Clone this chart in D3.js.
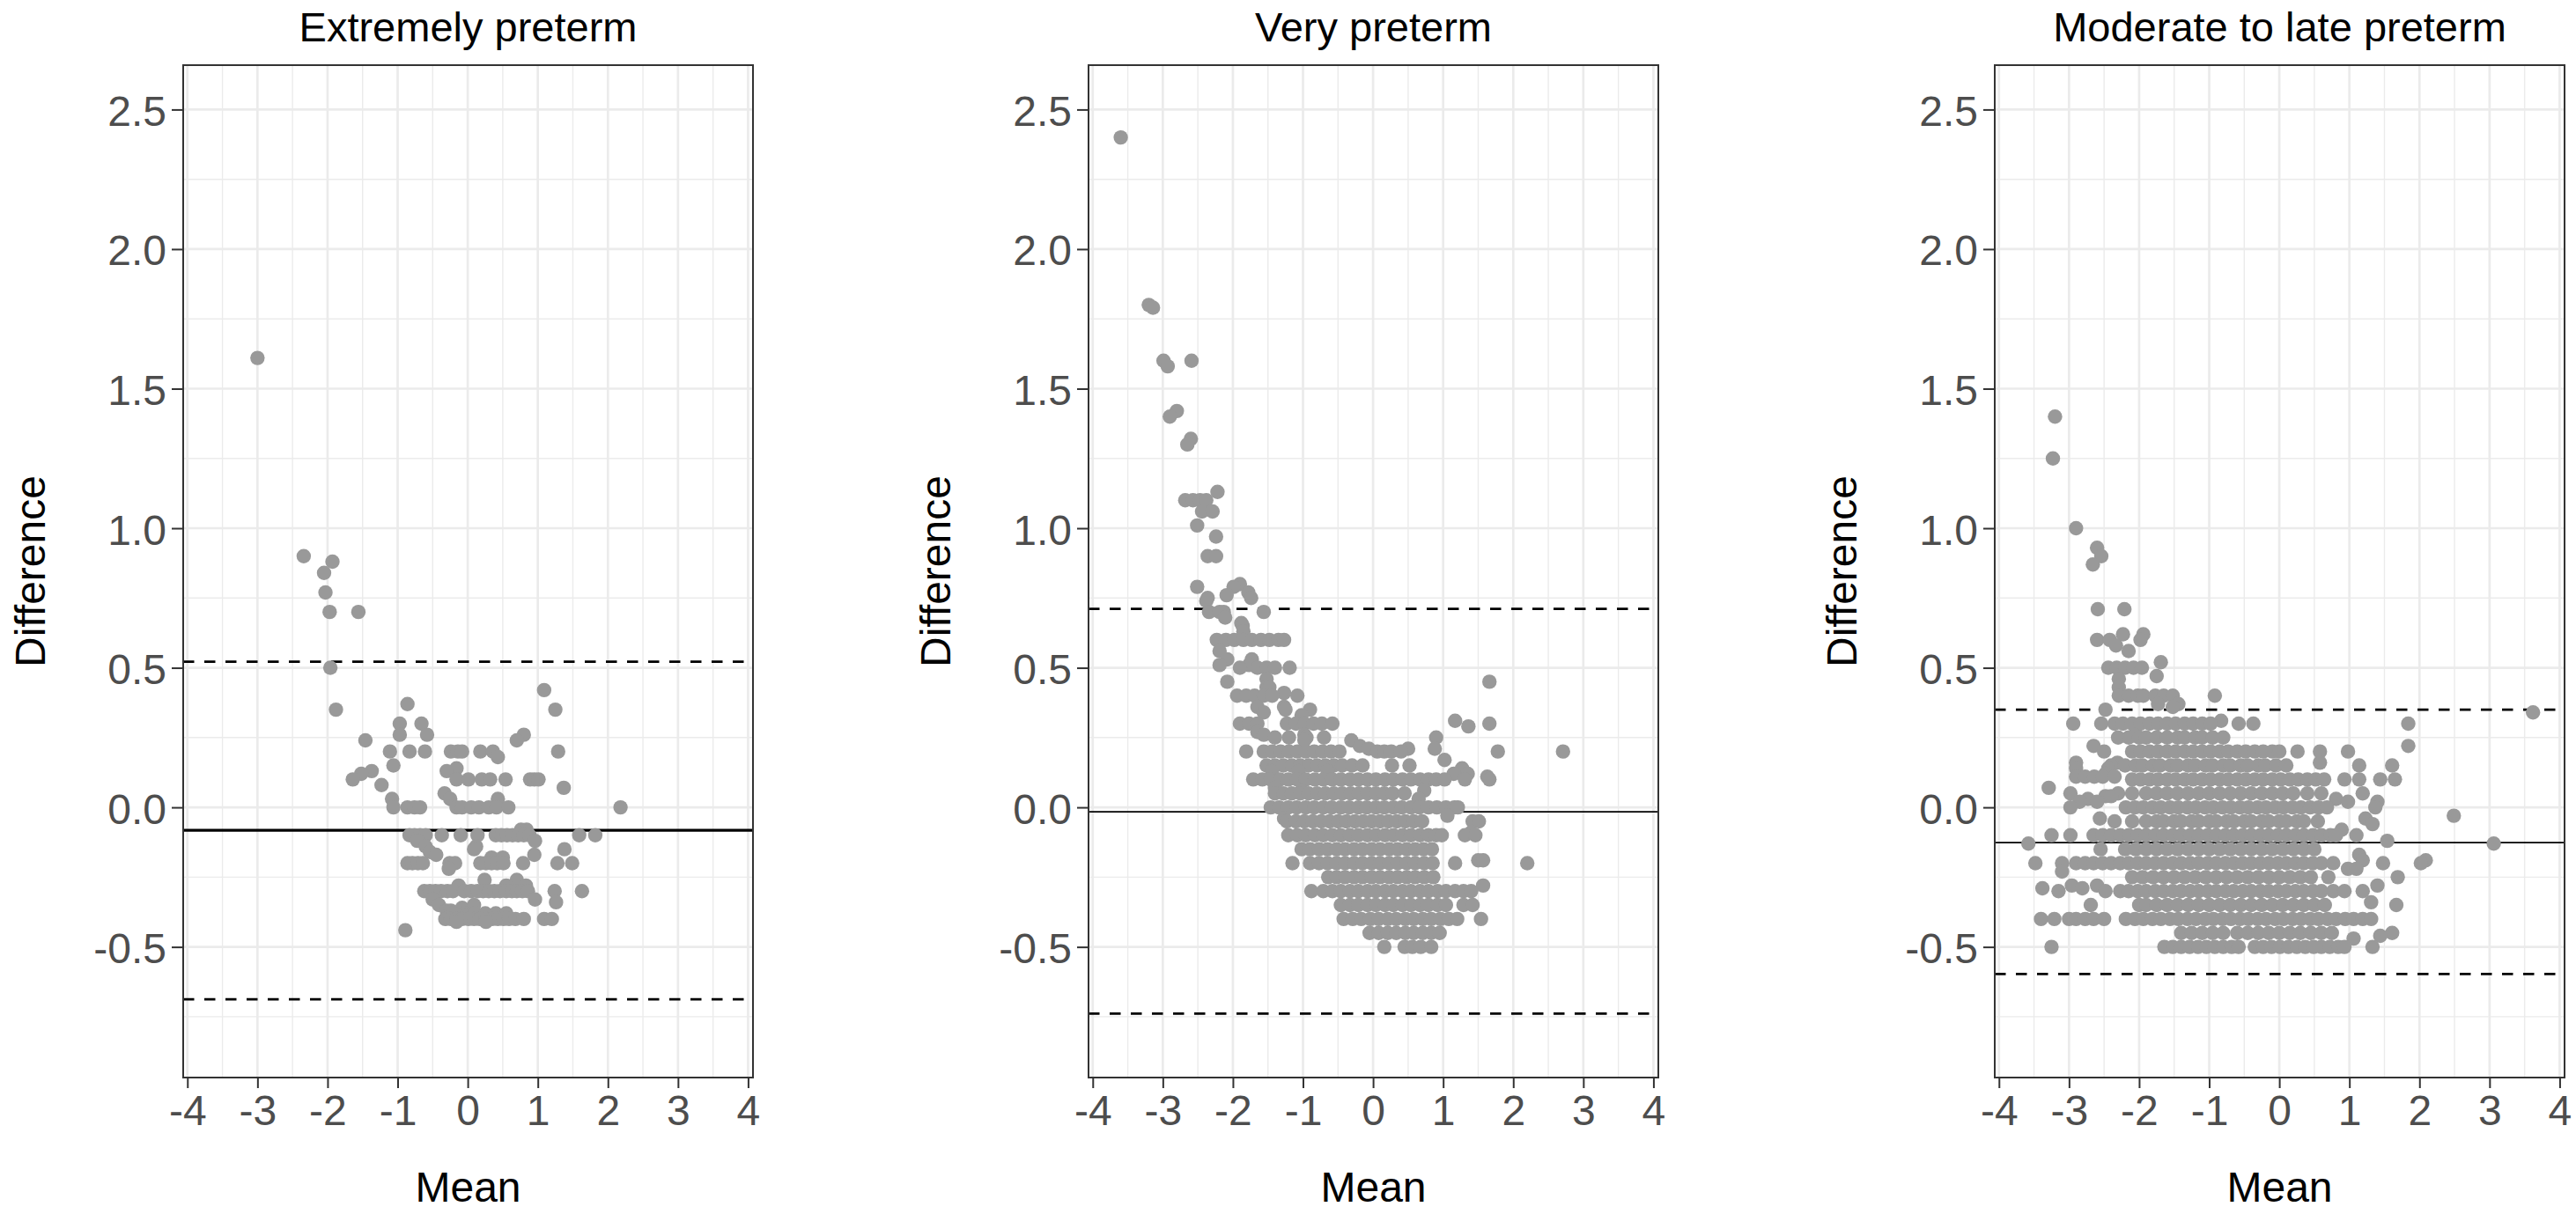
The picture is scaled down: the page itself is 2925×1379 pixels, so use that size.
<!DOCTYPE html>
<html>
<head>
<meta charset="utf-8">
<script src="https://cdn.jsdelivr.net/npm/d3@7"></script>
<style>
body { margin: 0; background: #fff; }
svg { display: block; }
</style>
</head>
<body>
<script>
var w = 2925;
var h = 1379;

var panelTitles = ["Extremely preterm", "Very preterm", "Moderate to late preterm"];
var xTickValues = [-4, -3, -2, -1, 0, 1, 2, 3, 4];
var yTickValues = [-0.5, 0, 0.5, 1, 1.5, 2, 2.5];

// mean difference and limits of agreement, one per panel
var biasLine = [-0.082, -0.016, -0.126];
var upperLoA = [0.522, 0.711, 0.350];
var lowerLoA = [-0.688, -0.739, -0.597];

// points as [difference, [means...]] rows
var extremelyRows = [
  [1.61, [-3.00]],
  [0.90, [-2.34]],
  [0.88, [-1.93]],
  [0.84, [-2.05]],
  [0.77, [-2.03]],
  [0.70, [-1.97, -1.56]],
  [0.50, [-1.96]],
  [0.42, [1.09]],
  [0.37, [-0.86]],
  [0.35, [-1.88, 1.25]],
  [0.30, [-0.97, -0.66]],
  [0.26, [-0.97, -0.58, 0.80]],
  [0.24, [-1.46, 0.70]],
  [0.20, [-1.11, -0.83, -0.61, -0.24, -0.14, -0.08, 0.18, 0.36, 1.29]],
  [0.18, [0.43]],
  [0.15, [-1.06]],
  [0.14, [-0.16]],
  [0.13, [-1.37, -0.30]],
  [0.12, [-1.52]],
  [0.10, [-1.64, -0.16, 0.01, 0.20, 0.32, 0.54, 0.89, 0.95, 1.01]],
  [0.08, [-1.23]],
  [0.07, [1.37]],
  [0.05, [-0.33]],
  [0.03, [-1.08, -0.25, 0.43]],
  [0.00, [-1.06, -0.86, -0.76, -0.68, -0.16, -0.08, 0.05, 0.16, 0.30, 0.41, 0.58, 2.18]],
  [-0.08, [0.76, 0.84]],
  [-0.10, [-0.83, -0.76, -0.68, -0.60, -0.37, -0.10, 0.14, 0.40, 0.48, 0.56, 0.64, 0.72, 0.80, 0.88, 1.59, 1.82]],
  [-0.12, [-0.72, 0.96]],
  [-0.14, [-0.60, 0.12]],
  [-0.15, [0.09, 1.38]],
  [-0.16, [-0.54]],
  [-0.17, [-0.45, 0.95]],
  [-0.18, [0.34, 0.50]],
  [-0.20, [-0.86, -0.79, -0.71, -0.64, -0.26, -0.18, 0.18, 0.26, 0.34, 0.42, 0.51, 0.79, 1.28, 1.49]],
  [-0.22, [-0.27]],
  [-0.26, [0.24, 0.70]],
  [-0.28, [-0.13, 0.55, 0.83]],
  [-0.30, [-0.62, -0.54, -0.46, -0.38, -0.29, -0.21, -0.05, 0.05, 0.14, 0.22, 0.30, 0.38, 0.46, 0.55, 0.63, 0.70, 0.78, 0.86, 1.24, 1.63]],
  [-0.33, [-0.50, 0.96]],
  [-0.34, [1.26]],
  [-0.35, [-0.41, 0.09]],
  [-0.36, [-0.08]],
  [-0.37, [-0.30, -0.24]],
  [-0.38, [-0.20, -0.05, 0.10, 0.25, 0.40, 0.55]],
  [-0.39, [-0.04]],
  [-0.40, [-0.32, -0.24, -0.16, -0.08, 0.01, 0.09, 0.17, 0.26, 0.35, 0.43, 0.51, 0.59, 0.68, 0.80, 1.09, 1.20]],
  [-0.41, [-0.16, 0.26]],
  [-0.44, [-0.89]]
];

var veryRows = [
  [2.40, [-3.60]],
  [1.80, [-3.20]],
  [1.79, [-3.14]],
  [1.60, [-2.99, -2.59]],
  [1.58, [-2.93]],
  [1.42, [-2.80]],
  [1.40, [-2.90]],
  [1.32, [-2.60]],
  [1.30, [-2.65]],
  [1.13, [-2.22]],
  [1.10, [-2.68, -2.57, -2.47, -2.38]],
  [1.06, [-2.44, -2.29]],
  [1.01, [-2.51]],
  [0.97, [-2.24]],
  [0.90, [-2.36, -2.24]],
  [0.80, [-1.90]],
  [0.79, [-2.51, -1.99]],
  [0.77, [-1.78]],
  [0.76, [-2.09]],
  [0.75, [-2.36, -1.74]],
  [0.74, [-2.38]],
  [0.70, [-2.34, -2.19, -2.13, -1.56]],
  [0.68, [-2.11]],
  [0.66, [-1.88]],
  [0.65, [-1.86]],
  [0.63, [-1.85]],
  [0.60, [-2.23, -2.10, -1.98, -1.85, -1.73, -1.60, -1.48, -1.35, -1.27]],
  [0.56, [-2.19]],
  [0.53, [-2.08, -1.73]],
  [0.51, [-2.19, -1.77]],
  [0.50, [-1.90, -1.65, -1.52, -1.40, -1.19]],
  [0.46, [-1.52]],
  [0.45, [-2.08, 1.66]],
  [0.43, [-1.52, -1.48]],
  [0.41, [-1.27]],
  [0.40, [-1.94, -1.81, -1.69, -1.56, -1.44, -1.08]],
  [0.36, [-1.65, -1.27]],
  [0.35, [-1.25, -0.90]],
  [0.34, [-1.56]],
  [0.33, [-1.02]],
  [0.31, [1.17]],
  [0.30, [-1.90, -1.77, -1.65, -1.23, -1.10, -0.98, -0.85, -0.73, -0.58, 1.66]],
  [0.29, [1.36]],
  [0.27, [-1.65]],
  [0.26, [-1.56, -0.98]],
  [0.25, [-1.40, -1.20, -0.95, -0.70, 0.90]],
  [0.24, [-0.98, -0.31]],
  [0.22, [-0.19]],
  [0.21, [-0.06, 0.50, 0.88]],
  [0.20, [-1.81, -1.56, -1.44, -1.32, -1.20, -1.08, -0.96, -0.84, -0.72, -0.60, -0.48, 0.06, 0.16, 0.26, 0.40, 1.78, 2.71]],
  [0.17, [1.02]],
  [0.15, [-1.52, -1.40, -1.28, -1.16, -1.04, -0.92, -0.80, -0.68, -0.56, -0.44, -0.30, -0.15, 0.27, 0.52]],
  [0.14, [1.27]],
  [0.13, [-1.44, -1.06, -0.65]],
  [0.12, [1.15, 1.35]],
  [0.11, [1.63]],
  [0.10, [-1.71, -1.58, -1.46, -1.33, -1.21, -1.08, -0.96, -0.83, -0.71, -0.58, -0.46, -0.33, -0.21, -0.08, 0.04, 0.17, 0.29, 0.42, 0.54, 0.67, 0.79, 0.90, 1.02, 1.31, 1.66]],
  [0.07, [-1.40]],
  [0.06, [-1.02, 0.73]],
  [0.05, [-1.40, -1.28, -1.16, -1.04, -0.92, -0.80, -0.68, -0.56, -0.44, -0.32, -0.20, -0.08, 0.04, 0.16, 0.28, 0.45]],
  [0.03, [0.65]],
  [0.00, [-1.46, -1.34, -1.21, -1.09, -0.96, -0.84, -0.71, -0.59, -0.46, -0.34, -0.21, -0.09, 0.04, 0.16, 0.29, 0.41, 0.54, 0.66, 0.79, 0.91, 1.04, 1.16, 1.21]],
  [-0.03, [1.06]],
  [-0.04, [-1.27]],
  [-0.05, [-1.23, -1.10, -0.98, -0.86, -0.74, -0.62, -0.50, -0.38, -0.26, -0.14, -0.02, 0.10, 0.22, 0.34, 0.46, 0.58, 0.70, 1.42, 1.51]],
  [-0.09, [1.40]],
  [-0.10, [-1.21, -1.08, -0.96, -0.83, -0.71, -0.58, -0.46, -0.33, -0.21, -0.08, 0.04, 0.17, 0.29, 0.42, 0.54, 0.67, 0.79, 0.90, 0.98, 1.31, 1.46]],
  [-0.15, [-1.02, -0.90, -0.77, -0.65, -0.52, -0.40, -0.27, -0.15, -0.02, 0.10, 0.23, 0.35, 0.48, 0.60, 0.72, 0.84]],
  [-0.19, [1.50, 1.57]],
  [-0.20, [-1.15, -0.90, -0.77, -0.65, -0.52, -0.40, -0.27, -0.15, -0.02, 0.10, 0.23, 0.35, 0.48, 0.60, 0.73, 0.85, 1.17, 2.20]],
  [-0.25, [-0.64, -0.52, -0.40, -0.27, -0.15, -0.02, 0.10, 0.23, 0.35, 0.48, 0.60, 0.73, 0.86]],
  [-0.28, [1.57]],
  [-0.30, [-0.88, -0.71, -0.58, -0.46, -0.33, -0.21, -0.08, 0.04, 0.17, 0.29, 0.42, 0.54, 0.67, 0.79, 0.92, 1.04, 1.17, 1.29, 1.40]],
  [-0.35, [-0.46, -0.33, -0.21, -0.08, 0.04, 0.17, 0.29, 0.42, 0.54, 0.67, 0.79, 0.92, 1.04, 1.29, 1.42]],
  [-0.40, [-0.42, -0.29, -0.17, -0.04, 0.08, 0.21, 0.33, 0.46, 0.58, 0.71, 0.83, 0.96, 1.08, 1.20, 1.54]],
  [-0.45, [-0.05, 0.08, 0.21, 0.33, 0.46, 0.58, 0.71, 0.83, 0.95]],
  [-0.50, [0.16, 0.45, 0.56, 0.68, 0.83]]
];

var moderateRows = [
  [1.40, [-3.20]],
  [1.25, [-3.23]],
  [1.00, [-2.90]],
  [0.93, [-2.60]],
  [0.90, [-2.54]],
  [0.87, [-2.66]],
  [0.71, [-2.59, -2.21]],
  [0.62, [-2.23, -1.94]],
  [0.60, [-2.60, -2.42, -1.98]],
  [0.58, [-2.33]],
  [0.56, [-2.15]],
  [0.52, [-1.69]],
  [0.50, [-2.44, -2.32, -2.20, -2.08, -1.96]],
  [0.47, [-1.75]],
  [0.46, [-2.29]],
  [0.43, [-2.29]],
  [0.40, [-2.29, -2.15, -2.02, -1.94, -1.77, -1.65, -1.52, -0.92]],
  [0.37, [-1.73, -1.44]],
  [0.36, [-1.52]],
  [0.35, [-2.48]],
  [0.34, [3.62]],
  [0.31, [-0.83]],
  [0.30, [-2.94, -2.54, -2.35, -2.23, -2.10, -1.98, -1.85, -1.73, -1.60, -1.48, -1.35, -1.23, -1.10, -0.98, -0.58, -0.37, 1.84]],
  [0.26, [-2.06]],
  [0.25, [-2.30, -2.15, -2.00, -1.90, -1.75, -1.60, -1.45, -1.35, -1.20, -1.10, -0.95, -0.80]],
  [0.22, [-2.65, 1.84]],
  [0.20, [-2.50, -2.10, -1.98, -1.85, -1.73, -1.60, -1.48, -1.35, -1.23, -1.10, -0.98, -0.85, -0.73, -0.60, -0.48, -0.35, -0.23, -0.10, 0.00, 0.26, 0.58, 0.98]],
  [0.16, [-2.90, -2.31, 0.58]],
  [0.15, [-2.40, -2.20, -2.05, -1.95, -1.80, -1.70, -1.55, -1.45, -1.30, -1.20, -1.05, -0.95, -0.80, -0.70, -0.55, -0.45, -0.30, -0.20, -0.05, 0.10, 1.14, 1.61]],
  [0.14, [-2.90, -2.44]],
  [0.12, [-2.48]],
  [0.11, [-2.90, -2.77, -2.64, -2.52, -2.35]],
  [0.10, [-2.10, -1.98, -1.85, -1.73, -1.60, -1.48, -1.35, -1.23, -1.10, -0.98, -0.85, -0.73, -0.60, -0.48, -0.35, -0.23, -0.10, 0.02, 0.15, 0.27, 0.40, 0.52, 0.64, 0.93, 1.14, 1.44, 1.65]],
  [0.07, [-3.29]],
  [0.05, [-2.98, -2.30, -2.10, -1.90, -1.75, -1.60, -1.45, -1.30, -1.15, -1.00, -0.85, -0.70, -0.55, -0.40, -0.25, -0.10, 0.05, 0.20, 0.40, 0.60, 1.19]],
  [0.04, [-2.48, -2.40]],
  [0.03, [-2.73, 0.81]],
  [0.02, [-2.85, -2.60, 0.98, 1.40]],
  [0.00, [-2.98, -2.19, -2.06, -1.94, -1.81, -1.69, -1.56, -1.44, -1.31, -1.19, -1.06, -0.94, -0.81, -0.69, -0.56, -0.44, -0.31, -0.19, -0.06, 0.06, 0.19, 0.31, 0.44, 0.56, 0.68, 1.37]],
  [-0.03, [2.49]],
  [-0.04, [-2.56, 1.23]],
  [-0.05, [-2.35, -2.10, -1.90, -1.75, -1.65, -1.50, -1.40, -1.25, -1.15, -1.00, -0.90, -0.75, -0.65, -0.50, -0.40, -0.25, -0.15, 0.00, 0.10, 0.25, 0.35, 0.55]],
  [-0.06, [1.33]],
  [-0.08, [0.89]],
  [-0.10, [-3.25, -2.98, -2.65, -2.52, -2.40, -2.27, -2.15, -2.02, -1.90, -1.77, -1.65, -1.52, -1.40, -1.27, -1.15, -1.02, -0.90, -0.77, -0.65, -0.52, -0.40, -0.27, -0.15, -0.02, 0.10, 0.23, 0.35, 0.48, 0.60, 0.73, 0.81, 1.10]],
  [-0.12, [1.54]],
  [-0.13, [-3.58, 3.06]],
  [-0.15, [-2.55, -2.20, -2.05, -1.90, -1.75, -1.60, -1.45, -1.30, -1.15, -1.00, -0.85, -0.70, -0.55, -0.40, -0.25, -0.10, 0.05, 0.20, 0.35, 0.50]],
  [-0.17, [1.14]],
  [-0.19, [1.19, 2.09]],
  [-0.20, [-3.48, -3.10, -2.90, -2.77, -2.65, -2.52, -2.40, -2.27, -2.15, -2.02, -1.90, -1.77, -1.65, -1.52, -1.40, -1.27, -1.15, -1.02, -0.90, -0.77, -0.65, -0.52, -0.40, -0.27, -0.15, -0.02, 0.10, 0.23, 0.35, 0.48, 0.60, 0.77, 1.48, 2.02]],
  [-0.22, [0.98, 1.10]],
  [-0.23, [-3.10]],
  [-0.25, [-2.10, -1.95, -1.80, -1.65, -1.50, -1.35, -1.20, -1.05, -0.90, -0.75, -0.60, -0.45, -0.30, -0.15, 0.00, 0.15, 0.30, 0.45, 0.70, 1.69]],
  [-0.28, [-2.96, -2.60, 1.40]],
  [-0.29, [-3.38, -2.81]],
  [-0.30, [-3.15, -2.48, -2.27, -2.15, -2.02, -1.90, -1.77, -1.65, -1.52, -1.40, -1.27, -1.15, -1.02, -0.90, -0.77, -0.65, -0.52, -0.40, -0.27, -0.15, -0.02, 0.10, 0.23, 0.35, 0.48, 0.60, 0.77, 0.93, 1.19]],
  [-0.34, [1.31]],
  [-0.35, [-2.69, -2.00, -1.90, -1.75, -1.60, -1.45, -1.30, -1.15, -1.00, -0.85, -0.70, -0.55, -0.40, -0.25, -0.10, 0.05, 0.20, 0.35, 0.50, 0.65, 1.67]],
  [-0.40, [-3.40, -3.21, -3.00, -2.90, -2.77, -2.65, -2.50, -2.19, -2.06, -1.94, -1.81, -1.69, -1.56, -1.44, -1.31, -1.19, -1.06, -0.94, -0.81, -0.69, -0.56, -0.44, -0.31, -0.19, -0.06, 0.06, 0.19, 0.31, 0.44, 0.56, 0.69, 0.81, 0.94, 1.06, 1.19, 1.31]],
  [-0.45, [-1.40, -1.25, -1.10, -0.95, -0.80, -0.60, -0.45, -0.30, -0.15, 0.00, 0.15, 0.30, 0.45, 0.60, 0.75, 1.61]],
  [-0.46, [1.44]],
  [-0.47, [1.06]],
  [-0.50, [-3.25, -1.64, -1.52, -1.40, -1.28, -1.16, -1.04, -0.92, -0.80, -0.68, -0.58, -0.35, -0.23, -0.11, 0.01, 0.13, 0.25, 0.37, 0.49, 0.60, 0.72, 0.84, 0.93, 1.33]]
];

var panelRows = [extremelyRows, veryRows, moderateRows];

// layout
var panelLeft = [208, 1236, 2265];
var panelTop = 74;
var panelW = 647;
var panelH = 1150;
var font = "'Liberation Sans', Arial, sans-serif";

var svg = d3.select("body")
  .append("svg")
    .attr("width", w)
    .attr("height", h);

svg.append("rect")
  .attr("width", w)
  .attr("height", h)
  .attr("fill", "#ffffff");

var x = d3.scaleLinear().domain([-4.06, 4.07]).range([0, panelW]);
var y = d3.scaleLinear().domain([-0.968, 2.659]).range([panelH, 0]);

// minor grid sits halfway between the major breaks
var xMinor = xTickValues.slice(1).map(function(d) { return d - 0.5; });
var yMinor = [yTickValues[0] - 0.25].concat(yTickValues.map(function(d) { return d + 0.25; }))
  .filter(function(d) { return d > y.domain()[0] && d < y.domain()[1]; });

panelTitles.forEach(function(title, i) {

  var g = svg.append("g")
    .attr("transform", "translate(" + panelLeft[i] + "," + panelTop + ")");

  //Grid lines
  var grid = g.append("g");
  grid.selectAll(".vminor").data(xMinor).enter().append("line")
    .attr("x1", x).attr("x2", x).attr("y1", 0).attr("y2", panelH)
    .attr("stroke", "#ebebeb").attr("stroke-width", 1.4);
  grid.selectAll(".hminor").data(yMinor).enter().append("line")
    .attr("y1", y).attr("y2", y).attr("x1", 0).attr("x2", panelW)
    .attr("stroke", "#ebebeb").attr("stroke-width", 1.4);
  grid.selectAll(".vmajor").data(xTickValues).enter().append("line")
    .attr("x1", x).attr("x2", x).attr("y1", 0).attr("y2", panelH)
    .attr("stroke", "#ebebeb").attr("stroke-width", 2.7);
  grid.selectAll(".hmajor").data(yTickValues).enter().append("line")
    .attr("y1", y).attr("y2", y).attr("x1", 0).attr("x2", panelW)
    .attr("stroke", "#ebebeb").attr("stroke-width", 2.7);

  //Bias and limits of agreement
  g.append("line")
    .attr("x1", 0).attr("x2", panelW)
    .attr("y1", y(biasLine[i])).attr("y2", y(biasLine[i]))
    .attr("stroke", "#000").attr("stroke-width", i === 0 ? 3.3 : 1.8);
  [upperLoA[i], lowerLoA[i]].forEach(function(v) {
    g.append("line")
      .attr("x1", 0).attr("x2", panelW)
      .attr("y1", y(v)).attr("y2", y(v))
      .attr("stroke", "#000").attr("stroke-width", 2.8)
      .attr("stroke-dasharray", "12.5,11.5");
  });

  //Points
  var pts = [];
  panelRows[i].forEach(function(row) {
    row[1].forEach(function(m) { pts.push({ mean: m, diff: row[0] }); });
  });
  g.append("g").selectAll("circle")
    .data(pts)
    .enter()
    .append("circle")
      .attr("cx", function(d) { return x(d.mean); })
      .attr("cy", function(d) { return y(d.diff); })
      .attr("r", 8.2)
      .attr("fill", "#999999");

  //Panel border
  g.append("rect")
    .attr("width", panelW).attr("height", panelH)
    .attr("fill", "none").attr("stroke", "#333333").attr("stroke-width", 2);

  //Axes
  var xAxis = g.append("g")
    .attr("transform", "translate(0," + panelH + ")")
    .call(d3.axisBottom(x).tickValues(xTickValues)
      .tickFormat(function(d) { return String(d); })
      .tickSize(12).tickPadding(8));
  var yAxis = g.append("g")
    .call(d3.axisLeft(y).tickValues(yTickValues)
      .tickFormat(function(d) { return d.toFixed(1); })
      .tickSize(13).tickPadding(6));

  [xAxis, yAxis].forEach(function(ax) {
    ax.select(".domain").remove();
    ax.attr("font-family", font).attr("font-size", 48);
    ax.selectAll("line").attr("stroke", "#333333").attr("stroke-width", 2);
    ax.selectAll("text").attr("fill", "#4d4d4d");
  });
  yAxis.selectAll("text").attr("dy", "0.375em");

  //Titles
  g.append("text")
    .attr("x", panelW / 2).attr("y", 47 - panelTop)
    .attr("text-anchor", "middle")
    .attr("font-family", font).attr("font-size", 47)
    .attr("fill", "#000")
    .text(title);

  g.append("text")
    .attr("x", panelW / 2).attr("y", 1365 - panelTop)
    .attr("text-anchor", "middle")
    .attr("font-family", font).attr("font-size", 48)
    .attr("fill", "#000")
    .text("Mean");

  g.append("text")
    .attr("transform", "translate(-157," + (panelH / 2) + ") rotate(-90)")
    .attr("text-anchor", "middle")
    .attr("font-family", font).attr("font-size", 48)
    .attr("fill", "#000")
    .text("Difference");
});
</script>
</body>
</html>
